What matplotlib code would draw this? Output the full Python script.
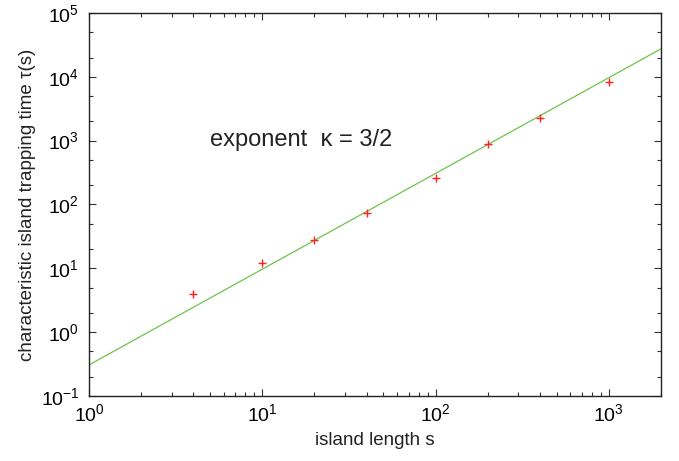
import numpy as np
import matplotlib
matplotlib.use('Agg')
import matplotlib.pyplot as plt
from matplotlib.ticker import LogLocator, NullFormatter

plt.rcParams['font.family'] = ['Liberation Sans', 'DejaVu Sans']
plt.rcParams['mathtext.default'] = 'regular'
plt.rcParams['axes.unicode_minus'] = False

island_len = [4, 10, 20, 40, 100, 200, 400, 1000]
trap_time = [4.0, 11.9, 27.5, 73, 255, 900, 2275, 8140]

# power-law fit tau = A * s^kappa
fit_A = 0.306
fit_kappa = 1.5
fit_s = [1, 2000]

fig = plt.figure(figsize=(6.79, 4.61), dpi=100)
ax = fig.add_axes([0.131, 0.141, 0.8425, 0.831])

ax.plot(fit_s, [fit_A * s ** fit_kappa for s in fit_s], color='#6cc44c', lw=0.9)
ax.plot(island_len, trap_time, '+', color='#ff2020', ms=6, mew=1.0)

ax.set_xscale('log')
ax.set_yscale('log')
ax.set_xlim(1, 2000)
ax.set_ylim(0.1, 1e5)

ax.xaxis.set_minor_locator(LogLocator(base=10, subs=np.arange(2, 10)))
ax.yaxis.set_minor_locator(LogLocator(base=10, subs=[2, 5]))
ax.xaxis.set_minor_formatter(NullFormatter())
ax.yaxis.set_minor_formatter(NullFormatter())

ax.tick_params(which='both', direction='in', top=True, right=True, width=0.8, color='#333333')
ax.tick_params(which='major', length=5, labelsize=14)
ax.tick_params(which='minor', length=3)
ax.tick_params(axis='x', which='major', pad=5)
ax.tick_params(axis='y', which='major', pad=7)
for sp in ax.spines.values():
    sp.set_linewidth(1.0)
    sp.set_color('#222222')

ax.set_xlabel('island length s', fontsize=13.5, labelpad=5, color='#222222')
ax.set_ylabel('characteristic island trapping time τ(s)', fontsize=13.5, labelpad=3, color='#222222')

ax.text(0.212, 0.667, 'exponent  κ = 3/2', transform=ax.transAxes, fontsize=17,
        ha='left', va='center', color='#222222')

fig.savefig('out.png', dpi=100)
